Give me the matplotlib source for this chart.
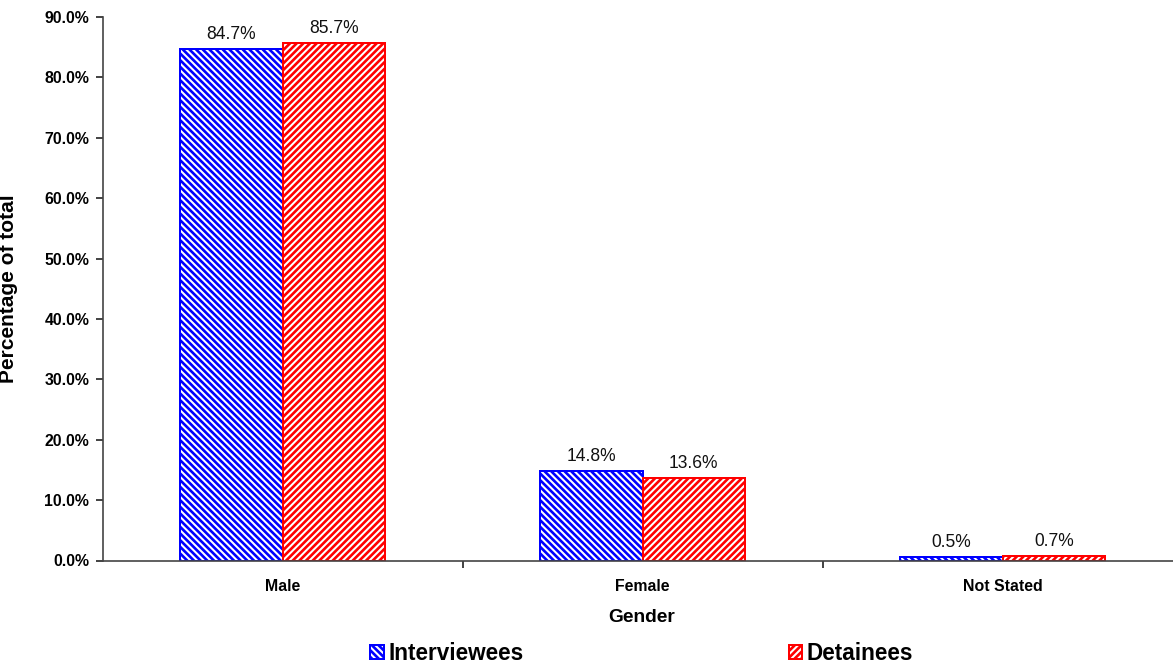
import matplotlib
matplotlib.use("Agg")
import matplotlib.pyplot as plt
import numpy as np

# Gender breakdown: share of interviewees vs detainees
categories = ["Male", "Female", "Not Stated"]
interviewees = [84.7, 14.8, 0.5]
detainees = [85.7, 13.6, 0.7]
series_names = ["Interviewees", "Detainees"]
y_ticks = [0, 10, 20, 30, 40, 50, 60, 70, 80, 90]

plt.rcParams["font.family"] = ["Liberation Sans", "DejaVu Sans"]
plt.rcParams["hatch.linewidth"] = 1.6

DPI = 120
W, H = 1173, 664
fig = plt.figure(figsize=(W / DPI, H / DPI), dpi=DPI)
fig.patch.set_facecolor("white")

left_px, right_px = 102.5, 1182.5
top_px, bottom_px = 17.0, 560.5
ax = fig.add_axes([left_px / W, 1 - bottom_px / H,
                   (right_px - left_px) / W, (bottom_px - top_px) / H])

x = np.arange(len(categories))
bw = 0.285
blue, red = "#0000FF", "#FF0000"

b1 = ax.bar(x - bw / 2, interviewees, width=bw, facecolor="white",
            edgecolor=blue, hatch="\\" * 6, linewidth=1.2,
            label=series_names[0])
b2 = ax.bar(x + bw / 2, detainees, width=bw, facecolor="white",
            edgecolor=red, hatch="/" * 6, linewidth=1.2,
            label=series_names[1])

for bars, vals in ((b1, interviewees), (b2, detainees)):
    for rect, v in zip(bars, vals):
        ax.annotate(f"{v:.1f}%", (rect.get_x() + rect.get_width() / 2, v),
                    xytext=(0, 6), textcoords="offset points",
                    ha="center", va="baseline", fontsize=10.5, color="#111111")

ax.set_xlim(-0.5, len(categories) - 0.5)
ax.set_ylim(0, 90)
ax.set_yticks(y_ticks)
ax.set_yticklabels([f"{t:.1f}%" for t in y_ticks], fontsize=9.5,
                   fontweight="bold")

# boundary ticks between groups, labels centred under each group
ax.set_xticks(np.arange(len(categories)) + 0.5)
ax.set_xticklabels([])
ax.set_xticks(x, minor=True)
ax.set_xticklabels(categories, minor=True, fontsize=9.5, fontweight="bold")
ax.tick_params(axis="x", which="minor", length=0, pad=11)
ax.tick_params(axis="x", which="major", length=4, width=1.0, color="#222222",
               direction="out")
ax.tick_params(axis="y", length=4, width=1.0, color="#222222", pad=4)

for s in ("top", "right"):
    ax.spines[s].set_visible(False)
for s in ("left", "bottom"):
    ax.spines[s].set_color("#444444")
    ax.spines[s].set_linewidth(1.0)

ax.set_ylabel("Percentage of total", fontsize=12.5, fontweight="bold")
ax.yaxis.set_label_coords(-0.078, 0.501)
ax.set_xlabel("Gender", fontsize=11.5, fontweight="bold", va="center")
ax.xaxis.set_label_coords((642 - left_px) / (right_px - left_px),
                          -(618 - bottom_px) / (bottom_px - top_px))

fig.legend(handles=[b1, b2], labels=series_names, loc="center",
           bbox_to_anchor=(0.547, 0.016), ncol=2, frameon=False,
           prop={"size": 13.5, "weight": "bold"},
           handlelength=0.6, handleheight=0.6, handletextpad=0.2,
           columnspacing=11.8, borderpad=0, borderaxespad=0)

fig.savefig("out.png", dpi=DPI, facecolor="white")
